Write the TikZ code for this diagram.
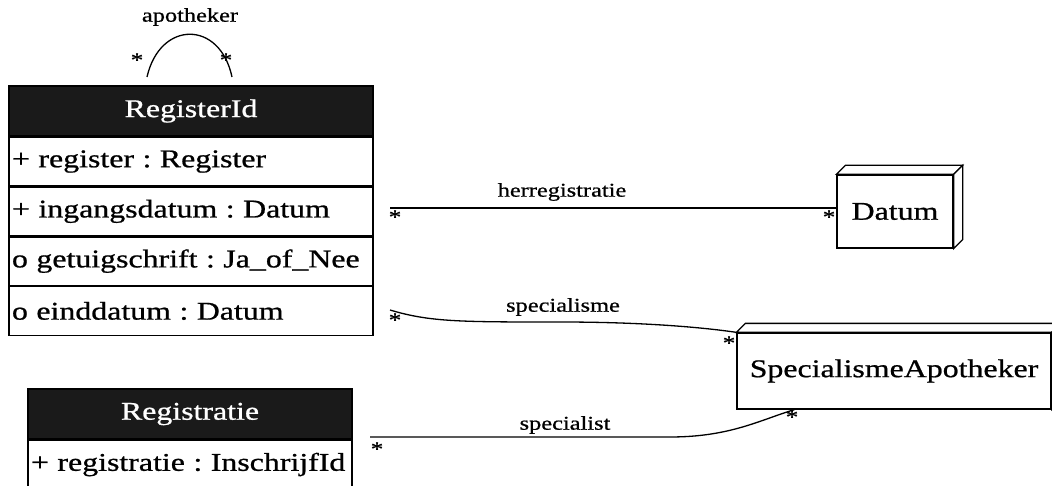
\documentclass[tikz,border=0pt]{standalone}
\usepackage{fontspec}
\setmainfont{Liberation Serif}[FakeStretch=1.25, FakeBold=0.8]
\usetikzlibrary{positioning}
\frenchspacing

\definecolor{headfill}{HTML}{1A1A1A}
\tikzset{
  clshead/.style={draw, fill=headfill, text=white, minimum height=50pt,
    inner sep=0pt, font=\fontsize{25.5}{28}\selectfont},
  clsrow/.style={draw, fill=white, minimum height=48.5pt, inner xsep=3pt,
    inner ysep=0pt, align=left, font=\fontsize{25.5}{28}\selectfont},
  boxnode/.style={draw, fill=white, inner sep=0pt, font=\fontsize{25.5}{28}\selectfont},
  assoc/.style={font=\fontsize{19.5}{22}\selectfont, inner sep=1pt},
  mult/.style={font=\fontsize{20}{20}\selectfont, inner sep=0pt},
}

% top and side faces of a node box
\newcommand\boxfaces[2]{%
  \draw[fill=white] (#1.north west) -- ++(#2,-#2) -- ([shift={(#2,-#2)}]#1.north east) -- (#1.north east) -- cycle;
  \draw[fill=white] (#1.north east) -- ++(#2,-#2) -- ([shift={(#2,-#2)}]#1.south east) -- (#1.south east) -- cycle;
}

\begin{document}
\begin{tikzpicture}[x=1pt, y=-1pt, line width=1.3pt]
  \useasboundingbox (0,0) rectangle (1052,486);

  % RegisterId
  \node[clshead, minimum width=364pt] (regid) at (191,111) {RegisterId};
  \node[clsrow, text width=358pt, below=0pt of regid] (regid1) {+ register : Register};
  \node[clsrow, text width=358pt, below=0pt of regid1] (regid2) {+ ingangsdatum : Datum};
  \node[clsrow, text width=358pt, below=0pt of regid2] (regid3) {o getuigschrift : Ja\_of\_Nee};
  \node[clsrow, text width=358pt, below=0pt of regid3] (regid4) {o einddatum : Datum};

  % Registratie
  \node[clshead, minimum width=324pt] (reg) at (190,414) {Registratie};
  \node[clsrow, text width=318pt, below=0pt of reg] (reg1) {+ registratie : InschrijfId};

  % Datum and SpecialismeApotheker
  \node[boxnode, minimum width=116pt, minimum height=73pt] (datum) at (895,211.5) {Datum};
  \boxfaces{datum}{9}
  \node[boxnode, minimum width=314pt, minimum height=76pt] (spec) at (894,371) {SpecialismeApotheker};
  \boxfaces{spec}{9}

  % apotheker
  \coordinate (apoA) at (147,77);
  \coordinate (apoB) at (232,77);
  \draw (apoA) .. controls (160,20) and (220,20) .. (apoB);
  \node[assoc] (apolbl) at (190,17) {apotheker};
  \node[mult] at (137,60) {*};
  \node[mult] at (226,60) {*};

  % herregistratie
  \coordinate (herA) at (390,208);
  \draw (herA) -- (herA -| datum.west);
  \node[assoc] (herlbl) at (562,192) {herregistratie};
  \node[mult] at (395,217) {*};
  \node[mult] at (829,217) {*};

  % specialisme
  \coordinate (spmA) at (390,310);
  \draw (spmA) .. controls (430,322) and (460,322) .. (560,322)
    .. controls (640,322) and (700,327) .. (spec.north west);
  \node[assoc] (spmlbl) at (563,307) {specialisme};
  \node[mult] at (395,320) {*};
  \node[mult] at (729,343) {*};

  % specialist
  \coordinate (splA) at (370,437);
  \draw (splA) -- (670,437) .. controls (730,437) and (760,420) .. ([xshift=58pt]spec.south west);
  \node[assoc] (spllbl) at (565,425) {specialist};
  \node[mult] at (377,449) {*};
  \node[mult] at (792,417) {*};
\end{tikzpicture}
\end{document}
